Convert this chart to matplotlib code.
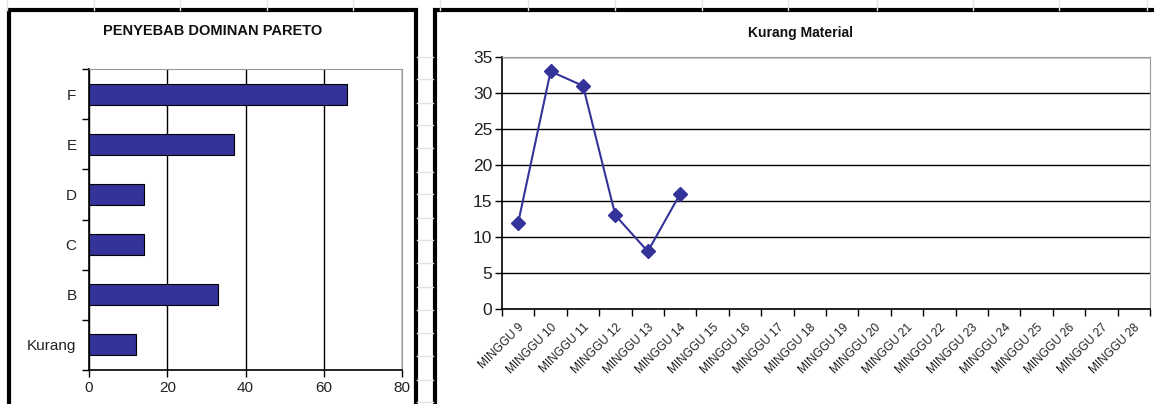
import matplotlib.pyplot as plt
from matplotlib.patches import Rectangle
from matplotlib.lines import Line2D

plt.rcParams['font.family'] = ['Liberation Sans', 'DejaVu Sans']

# pareto causes (bottom to top)
causes = ['Kurang', 'B', 'C', 'D', 'E', 'F']
cause_counts = [12, 33, 14, 14, 37, 66]

# weekly shortage of material
weeks = ['MINGGU %d' % w for w in range(9, 29)]
material = [12, 33, 31, 13, 8, 16]

navy = '#333399'
W, H = 1154, 404
fig = plt.figure(figsize=(W / 100, H / 100), dpi=100)
fig.patch.set_facecolor('white')


def fx(px):
    return px / W


def fy(py):
    return 1 - py / H


# faint sheet grid behind the charts
sheet = '#e3e3e3'
for x in [7, 94, 180, 267, 353, 440, 528, 615, 702, 788, 877, 973, 1059, 1147]:
    fig.add_artist(Line2D([fx(x), fx(x)], [fy(0), fy(10)], color=sheet, lw=1))
for y in [57, 79, 103, 125, 148, 172, 194, 218, 240, 263, 287, 310, 333, 356, 380, 402]:
    fig.add_artist(Line2D([fx(417), fx(433)], [fy(y), fy(y)], color=sheet, lw=1))

# chart frames
fig.add_artist(Rectangle((fx(9), fy(420)), fx(407), fy(10) - fy(420), fill=False,
                         ec='black', lw=3, transform=fig.transFigure, clip_on=False))
fig.add_artist(Rectangle((fx(435), fy(420)), fx(760), fy(10) - fy(420), fill=False,
                         ec='black', lw=3, transform=fig.transFigure, clip_on=False))

# --- left: horizontal bars ---
ax1 = fig.add_axes([fx(89), fy(370), fx(313), fy(69) - fy(370)])
ax1.barh(range(len(causes)), cause_counts, height=0.42, color=navy,
         edgecolor='black', lw=0.8, zorder=3)
ax1.set_xlim(0, 80)
ax1.set_ylim(-0.5, len(causes) - 0.5)
ax1.set_xticks([0, 20, 40, 60, 80])
ax1.set_yticks(range(len(causes)))
ax1.set_yticklabels(causes)
ax1.set_yticks([i - 0.5 for i in range(len(causes) + 1)], minor=True)
ax1.tick_params(axis='y', which='major', length=0, pad=9, labelsize=11, colors='#222222')
ax1.tick_params(axis='y', which='minor', length=5, width=1, direction='out')
ax1.tick_params(axis='x', length=5, width=1, direction='out', labelsize=11,
                labelcolor='#222222', pad=3)
ax1.grid(axis='x', color='black', lw=1, zorder=0)
for s in ['top', 'right']:
    ax1.spines[s].set_color('#999999')
for s in ['left', 'bottom']:
    ax1.spines[s].set_color('black')
    ax1.spines[s].set_linewidth(1.2)
fig.text(fx(213), fy(31), 'PENYEBAB DOMINAN PARETO', ha='center', va='center',
         fontsize=10.5, fontweight='bold', color='#111111')

# --- right: line chart ---
ax2 = fig.add_axes([fx(502), fy(309), fx(648), fy(57) - fy(309)])
ax2.plot(range(len(material)), material, color=navy, lw=1.5, marker='D',
         markersize=7, markerfacecolor=navy, markeredgecolor=navy, zorder=3)
ax2.set_xlim(-0.5, len(weeks) - 0.5)
ax2.set_ylim(0, 35)
ax2.set_yticks(range(0, 36, 5))
ax2.set_xticks(range(len(weeks)))
ax2.set_xticklabels(weeks, rotation=45, ha='right', rotation_mode='anchor')
ax2.set_xticks([i - 0.5 for i in range(len(weeks) + 1)], minor=True)
ax2.tick_params(axis='x', which='major', length=0, pad=9, labelsize=8.5, colors='#222222')
ax2.tick_params(axis='x', which='minor', length=5, width=1, direction='out')
ax2.tick_params(axis='y', length=5, width=1, direction='out', labelsize=12.5,
                labelcolor='#222222', pad=2)
ax2.grid(axis='y', color='black', lw=1, zorder=0)
for s in ['top', 'right']:
    ax2.spines[s].set_color('#999999')
for s in ['left', 'bottom']:
    ax2.spines[s].set_color('black')
    ax2.spines[s].set_linewidth(1.2)
fig.text(fx(800), fy(33), 'Kurang Material', ha='center', va='center',
         fontsize=10, fontweight='bold', color='#111111')

fig.savefig('out.png', dpi=100)
